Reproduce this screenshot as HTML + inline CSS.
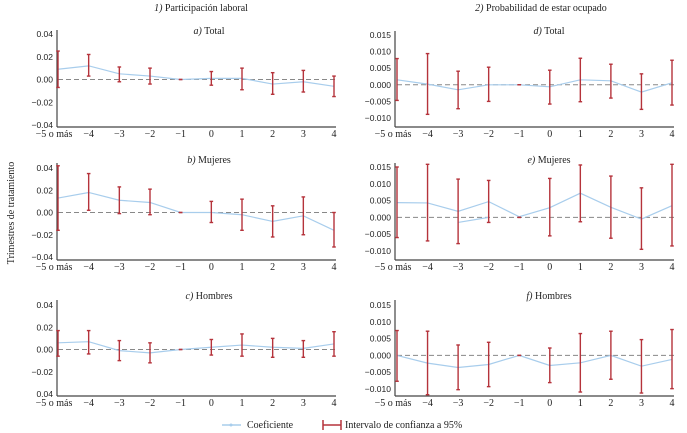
<!DOCTYPE html>
<html><head><meta charset="utf-8"><style>
body{margin:0;background:#fff;width:687px;height:433px;overflow:hidden}
svg{display:block}
.yt{font-family:"Liberation Sans",sans-serif;font-size:8.5px;fill:#222}
.xt{font-family:"Liberation Serif",serif;font-size:10px;fill:#222}
.tt{font-family:"Liberation Serif",serif;font-size:10px;fill:#222}
</style></head><body>
<svg id="c" width="687" height="433">
<text class="tt" x="201" y="11" text-anchor="middle"><tspan font-style="italic">1)</tspan> Participación laboral</text>
<text class="tt" x="541" y="11" text-anchor="middle"><tspan font-style="italic">2)</tspan> Probabilidad de estar ocupado</text>
<text class="tt" x="14" y="213" text-anchor="middle" transform="rotate(-90 14 213)">Trimestres de tratamiento</text>
<g>
<line x1="222" y1="425" x2="241" y2="425" stroke="#a8cdec" stroke-width="1.5"/>
<circle cx="231" cy="425" r="1.5" fill="#a8cdec"/>
<text class="tt" x="247" y="428">Coeficiente</text>
<line x1="323" y1="425" x2="341" y2="425" stroke="#b5333b" stroke-width="1.5"/>
<line x1="323" y1="420" x2="323" y2="430" stroke="#b5333b" stroke-width="1.5"/>
<line x1="341" y1="420" x2="341" y2="430" stroke="#b5333b" stroke-width="1.5"/>
<text class="tt" x="345" y="428">Intervalo de confianza a 95%</text>
</g>
</svg>
<script>
const categories=["\u22125 o más","\u22124","\u22123","\u22122","\u22121","0","1","2","3","4"];
const leftTicks=[0.04,0.02,0,-0.02,-0.04];
const leftTickLabels=["0.04","0.02","0.00","\u22120.02","\u22120.04"];
const leftTickLabelsC=["0.04","0.02","0.00","\u22120.02","0.04"];
const rightTicks=[0.015,0.01,0.005,0,-0.005,-0.01];
const rightTickLabels=["0.015","0.010","0.005","0.000","\u22120.005","\u22120.010"];
const coefA=[0.009,0.012,0.005,0.003,0,0.001,0.001,-0.004,-0.002,-0.006];
const loA=[-0.007,0.003,-0.002,-0.004,0,-0.005,-0.009,-0.013,-0.011,-0.015];
const hiA=[0.025,0.022,0.011,0.010,0,0.007,0.010,0.006,0.008,0.003];
const coefB=[0.013,0.018,0.011,0.009,0,0,-0.002,-0.008,-0.003,-0.016];
const loB=[-0.016,0.002,-0.001,-0.002,0,-0.009,-0.016,-0.022,-0.020,-0.031];
const hiB=[0.042,0.035,0.023,0.021,0,0.010,0.012,0.006,0.014,0];
const coefC=[0.006,0.007,-0.001,-0.003,0,0.002,0.004,0.002,0.001,0.005];
const loC=[-0.006,-0.004,-0.010,-0.012,0,-0.005,-0.006,-0.007,-0.007,-0.006];
const hiC=[0.017,0.017,0.008,0.006,0,0.009,0.014,0.010,0.008,0.016];
const coefD=[0.0015,0.0002,-0.0015,0,0,-0.0006,0.0015,0.0012,-0.0022,0.0006];
const loD=[-0.0047,-0.0089,-0.0072,-0.005,0,-0.0058,-0.0051,-0.004,-0.0074,-0.0061];
const hiD=[0.0079,0.0094,0.0041,0.0053,0,0.0044,0.008,0.0062,0.0033,0.0074];
const coefE=[0.0044,0.0043,0.0018,0.0047,0.0002,0.0029,0.0072,0.003,-0.0005,0.0035];
const extraE=[-0.0015,0];
const loE=[-0.006,-0.007,-0.0078,-0.0015,0,-0.0055,-0.0013,-0.0062,-0.0095,-0.0085];
const hiE=[0.015,0.0158,0.0114,0.011,0,0.0116,0.0156,0.0123,0.0088,0.0158];
const coefF=[0,-0.0023,-0.0036,-0.0027,0,-0.003,-0.0022,0,-0.0032,-0.0012];
const loF=[-0.0077,-0.0117,-0.0102,-0.0093,0,-0.0081,-0.0109,-0.0071,-0.0112,-0.0099];
const hiF=[0.0074,0.0072,0.0031,0.0039,0,0.0022,0.0065,0.0072,0.0047,0.0077];

const svg=document.getElementById('c');
const NS='http://www.w3.org/2000/svg';
function mk(tag,attrs,parent){const e=document.createElementNS(NS,tag);for(const k in attrs)e.setAttribute(k,attrs[k]);parent.appendChild(e);return e;}

function panel(p){
  const g=mk('g',{},svg);
  
  
  const ys=v=>p.yTop+(p.vTop-v)/(p.vTop-p.vBot)*(p.yBot-p.yTop);
  const xs=i=>p.x0+i*(p.x1-p.x0)/(categories.length-1);
  const t=mk('text',{x:p.titleX,y:p.titleY,'text-anchor':'middle',class:'tt'},g);
  
  
  const ts=mk('tspan',{'font-style':'italic'},t);ts.textContent=p.letter+')';
  t.appendChild(document.createTextNode(' '+p.sub));
  mk('line',{x1:p.ax,y1:p.axTop,x2:p.ax,y2:p.axBot,stroke:'#444','stroke-width':1.2},g);
  mk('line',{x1:p.ax,y1:p.axBot,x2:p.x1+2,y2:p.axBot,stroke:'#444','stroke-width':1.2},g);
  p.ticks.forEach((v,i)=>{
    const e=mk('text',{x:p.ax-4,y:ys(v)+3,'text-anchor':'end',class:'yt'},g);
    e.textContent=p.tickLabels[i];
    
    
  });
  categories.forEach((c,i)=>{
    const e=mk('text',{x:i==0?xs(i)-4:xs(i),y:p.axBot+10,'text-anchor':'middle',class:'xt'},g);
    e.textContent=c;
    
    
  });
  const z=mk('line',{x1:xs(0),y1:ys(0),x2:p.x1+2,y2:ys(0),stroke:'#888','stroke-width':1,'stroke-dasharray':'5,3'},g);
  
  
  const pts=p.coef.map((v,i)=>xs(i)+','+ys(v)).join(' ');
  const l=mk('polyline',{points:pts,fill:'none',stroke:'#a8cdec','stroke-width':1.2},g);
  
  
  if(p.extra){
    const l2=mk('line',{x1:xs(2),y1:ys(p.extra[0]),x2:xs(3),y2:ys(p.extra[1]),stroke:'#a8cdec','stroke-width':1.2},g);
    
    
  }
  p.lo.forEach((lo,i)=>{
    const hi=p.hi[i],x=xs(i);
    const eb=mk('g',{stroke:'#b5333b','stroke-width':1.4},g);
    
    
    mk('line',{x1:x,y1:ys(hi),x2:x,y2:ys(lo)},eb);
    mk('line',{x1:x-1.8,y1:ys(hi),x2:x+1.8,y2:ys(hi)},eb);
    mk('line',{x1:x-1.8,y1:ys(lo),x2:x+1.8,y2:ys(lo)},eb);
  });
}
const L={ax:57,x0:58,x1:334,ticks:leftTicks,vTop:0.04,vBot:-0.04,titleX:209};
const R={ax:395,x0:397,x1:672,ticks:rightTicks,vTop:0.015,vBot:-0.01,titleX:549};
panel({...L,name:'panel-a-total',letter:'a',sub:'Total',titleY:34,yTop:34,yBot:125,axTop:30,axBot:127,tickLabels:leftTickLabels,coef:coefA,lo:loA,hi:hiA});
panel({...L,name:'panel-b-mujeres',letter:'b',sub:'Mujeres',titleY:163,yTop:168,yBot:257,axTop:163,axBot:260,tickLabels:leftTickLabels,coef:coefB,lo:loB,hi:hiB});
panel({...L,name:'panel-c-hombres',letter:'c',sub:'Hombres',titleY:299,yTop:305,yBot:394,axTop:300,axBot:396,tickLabels:leftTickLabelsC,coef:coefC,lo:loC,hi:hiC});
panel({...R,name:'panel-d-total',letter:'d',sub:'Total',titleY:34,yTop:35,yBot:118,axTop:31,axBot:127,tickLabels:rightTickLabels,coef:coefD,lo:loD,hi:hiD});
panel({...R,name:'panel-e-mujeres',letter:'e',sub:'Mujeres',titleY:163,yTop:167,yBot:251,axTop:163,axBot:260,tickLabels:rightTickLabels,coef:coefE,lo:loE,hi:hiE,extra:extraE});
panel({...R,name:'panel-f-hombres',letter:'f',sub:'Hombres',titleY:299,yTop:305,yBot:389,axTop:300,axBot:396,tickLabels:rightTickLabels,coef:coefF,lo:loF,hi:hiF});
</script>
</body></html>
